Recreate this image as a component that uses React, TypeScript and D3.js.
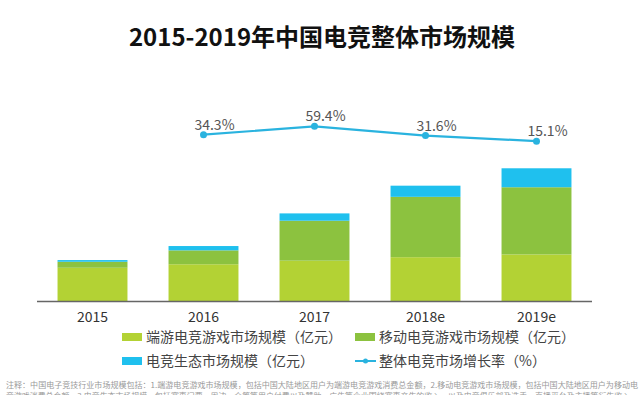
import * as d3 from "d3";
import { useEffect } from "react";

const width = 640;
const height = 395;

// data (亿元)
const years = ["2015", "2016", "2017", "2018e", "2019e"];
const pcValues = [277, 306, 336, 365, 388];
const mobileValues = [50, 116, 333, 503, 560];
const ecoValues = [14, 36, 61, 93, 158];
const growthYears = ["2016", "2017", "2018e", "2019e"];
const growthRates = [34.3, 59.4, 31.6, 15.1];

const seriesNames = [
  "端游电竞游戏市场规模（亿元）",
  "移动电竞游戏市场规模（亿元）",
  "电竞生态市场规模（亿元）",
  "整体电竞市场增长率（%）",
];
const colors = ["#b3d234", "#8cc23f", "#1fc0ee", "#2ab3df"];

const note1 =
  "注释：中国电子竞技行业市场规模包括：1.端游电竞游戏市场规模，包括中国大陆地区用户为端游电竞游戏消费总金额，2.移动电竞游戏市场规模，包括中国大陆地区用户为移动电";
const note2 =
  "竞游戏消费总金额，3.电竞生态市场规模，包括赛事门票、周边、众筹等用户付费以及赞助、广告等企业围绕赛事产生的收入，以及电竞俱乐部及选手、直播平台及主播等衍生收入。";

const font = "'Noto Sans CJK SC', 'Noto Sans', sans-serif";

const App = () => {
  useEffect(() => {
    document.body.style.margin = "0";
  }, []);

  const x = d3
    .scaleBand()
    .domain(years)
    .range([37, 592])
    .paddingInner(0.37)
    .paddingOuter(0.185);
  const y = d3.scaleLinear().domain([0, 1200]).range([301, 157]);
  const rateY = d3.scaleLinear().domain([0, 100]).range([146.2, 112.7]);

  const table = years.map((yr, i) => ({
    year: yr,
    pc: pcValues[i],
    mobile: mobileValues[i],
    eco: ecoValues[i],
  }));
  const stacked = d3.stack().keys(["pc", "mobile", "eco"])(table as any);

  const cx = (yr: string) => (x(yr) as number) + x.bandwidth() / 2;
  const line = d3
    .line<number>()
    .x((d, i) => cx(growthYears[i]))
    .y((d) => rateY(d));

  return (
    <svg
      width={width}
      height={height}
      style={{ display: "block", fontFamily: font, background: "#fff" }}
    >
      <text
        x={322}
        y={46}
        textAnchor="middle"
        fontSize={24}
        fontWeight="bold"
        fill="#111"
      >
        2015-2019年中国电竞整体市场规模
      </text>

      {stacked.map((layer, li) => (
        <g key={li} fill={colors[li]}>
          {layer.map((d, i) => (
            <rect
              key={i}
              x={x(years[i])}
              y={y(d[1])}
              width={x.bandwidth()}
              height={y(d[0]) - y(d[1])}
            />
          ))}
        </g>
      ))}

      <line x1={37} x2={592} y1={301.5} y2={301.5} stroke="#666" strokeWidth={1.5} />
      {years.map((yr) => (
        <text key={yr} x={cx(yr)} y={322} textAnchor="middle" fontSize={14} fill="#333">
          {yr}
        </text>
      ))}

      <path d={line(growthRates) || ""} fill="none" stroke={colors[3]} strokeWidth={2.2} />
      {growthRates.map((r, i) => (
        <g key={i}>
          <circle cx={cx(growthYears[i])} cy={rateY(r)} r={3.5} fill={colors[3]} />
          <text
            x={cx(growthYears[i]) + 11}
            y={rateY(r) - 5}
            textAnchor="middle"
            fontSize={14}
            fill="#555"
          >
            {r.toFixed(1)}%
          </text>
        </g>
      ))}

      {/* legend */}
      {seriesNames.map((name, i) => {
        const lx = i % 2 === 0 ? 122 : 355;
        const ly = i < 2 ? 337 : 361;
        return (
          <g key={name}>
            {i < 3 ? (
              <rect x={lx} y={ly - 4} width={20} height={8} fill={colors[i]} />
            ) : (
              <g>
                <line x1={lx} x2={lx + 21} y1={ly} y2={ly} stroke={colors[3]} strokeWidth={2} />
                <circle cx={lx + 10.5} cy={ly} r={2.5} fill={colors[3]} />
              </g>
            )}
            <text x={lx + 24} y={ly + 5} fontSize={14} fill="#444">
              {name}
            </text>
          </g>
        );
      })}

      <text x={6} y={388} fontSize={8} fill="#999" textLength={632} lengthAdjust="spacingAndGlyphs">
        {note1}
      </text>
      <text x={6} y={399} fontSize={8} fill="#999" textLength={632} lengthAdjust="spacingAndGlyphs">
        {note2}
      </text>
    </svg>
  );
};

export default App;
